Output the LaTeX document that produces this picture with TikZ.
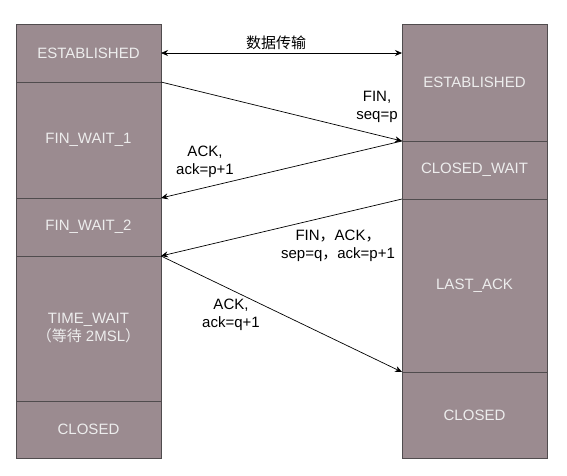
\documentclass[tikz,border=0pt]{standalone}
\usepackage{fontspec}
\setmainfont{Liberation Sans}
\newfontfamily\cjk{Noto Sans CJK SC}
\usetikzlibrary{positioning,arrows.meta}
\definecolor{stategray}{RGB}{155,139,144}
\definecolor{edgegray}{RGB}{80,76,78}

\begin{document}
\begin{tikzpicture}[
  x=1pt, y=-1pt, >={Stealth[length=7pt,width=6pt]},
  every node/.style={font=\fontsize{15}{18}\selectfont},
  state/.style={draw=edgegray, fill=stategray, text=white!93!black, minimum width=145pt, inner sep=0pt, outer sep=0pt, line width=0.8pt, align=center},
  msg/.style={line width=0.7pt},
  msglabel/.style={align=center, inner sep=0pt}
]
\useasboundingbox (0,0) rectangle (567,475);
% client side
\node[state, minimum height=58pt, anchor=north west] (cEst) at (16,24) {ESTABLISHED};
\node[state, minimum height=116pt, below=0pt of cEst] (cFw1) {FIN\_WAIT\_1};
\node[state, minimum height=58pt, below=0pt of cFw1] (cFw2) {FIN\_WAIT\_2};
\node[state, minimum height=145pt, below=0pt of cFw2] (cTw) {TIME\_WAIT\\{\cjk （等待} 2MSL{\cjk ）}};
\node[state, minimum height=57pt, below=0pt of cTw] (cClosed) {CLOSED};
% server side
\node[state, minimum height=117pt, anchor=north west] (sEst) at (402,24) {ESTABLISHED};
\node[state, minimum height=58pt, below=0pt of sEst] (sCw) {CLOSED\_WAIT};
\node[state, minimum height=173pt, below=0pt of sCw] (sLa) {LAST\_ACK};
\node[state, minimum height=86pt, below=0pt of sLa] (sClosed) {CLOSED};
% messages
\draw[msg, <->] (cEst.east) -- (cEst.east -| sEst.west);
\draw[msg, ->] (cEst.south east) -- (sEst.south west);
\draw[msg, ->] (sEst.south west) -- (cFw1.south east);
\draw[msg, ->] (sCw.south west) -- (cFw2.south east);
\draw[msg, ->] (cFw2.south east) -- (sLa.south west);
% labels
\node[msglabel] (lData) at (276,43) {{\cjk 数据传输}};
\node[msglabel] (lFin) at (377,107) {FIN,\\seq=p};
\node[msglabel] (lAck1) at (205,162) {ACK,\\ack=p+1};
\node[msglabel] (lFinAck) at (338,246) {FIN{\cjk ，}ACK{\cjk ，}\\sep=q{\cjk ，}ack=p+1};
\node[msglabel] (lAck2) at (231,315) {ACK,\\ack=q+1};
\end{tikzpicture}
\end{document}
